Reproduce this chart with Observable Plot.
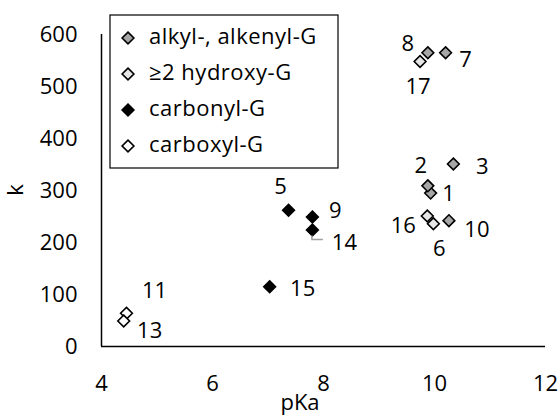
<!DOCTYPE html>
<html><head><meta charset="utf-8">
<script src="https://cdn.jsdelivr.net/npm/d3@7"></script>
<script src="https://cdn.jsdelivr.net/npm/@observablehq/plot@0.6"></script>
<style>body{margin:0;background:#fff}</style>
</head><body><div id="chart"></div>
<script>
// ---- data ----
const groups = ["alkyl-, alkenyl-G", "≥2 hydroxy-G", "carbonyl-G", "carboxyl-G"];
const pointIds = ["1","2","3","5","6","7","8","9","10","11","13","14","15","16","17"];
const pKaValues = [9.93, 9.88, 10.34, 7.37, 9.98, 10.2, 9.88, 7.8, 10.26, 4.45, 4.4, 7.8, 7.03, 9.87, 9.74];
const kValues   = [295, 309, 351, 262, 236, 565, 565, 249, 242, 64, 49, 224, 115, 251, 548];
const groupIndex = [0, 0, 0, 2, 1, 0, 0, 2, 0, 3, 3, 2, 2, 1, 1];
const xTicks = [4, 6, 8, 10, 12];
const yTicks = [0, 100, 200, 300, 400, 500, 600];

// ---- styles / layout ----
const fills = ["#a6a6a6", "#e6e6e6", "#000000", "#ffffff"];
const labelOffsets = {
  "1": [18, 1], "2": [-7, -20], "3": [29, 3], "5": [-8, -23], "6": [6, 25],
  "7": [20, 7], "8": [-20, -9], "9": [23, -6], "10": [28, 9], "11": [28, -22],
  "13": [26, 10], "14": [32, 13], "15": [33, 2], "16": [-24, 10], "17": [-2, 25]
};
const FONT = "'Open Sans', sans-serif";
const FS = 22;

const data = pointIds.map((id, i) => ({id, pKa: pKaValues[i], k: kValues[i], g: groupIndex[i]}));
const drawOrder = [0, 1, 2, 3].flatMap(g => data.filter(d => d.g === g));

const diamond = {draw(ctx, size) {
  const r = Math.sqrt(size) * 0.62625;
  ctx.moveTo(0, -r); ctx.lineTo(r, 0); ctx.lineTo(0, r); ctx.lineTo(-r, 0); ctx.closePath();
}};

const chart = Plot.plot({
  width: 560, height: 415,
  marginLeft: 101, marginRight: 15, marginTop: 34, marginBottom: 69,
  style: {fontFamily: FONT, fontSize: FS + "px", color: "#000", background: "#fff"},
  x: {domain: [4, 12], ticks: xTicks, label: null},
  y: {domain: [0, 600], ticks: yTicks, label: null},
  marks: [
    Plot.axisX({ticks: xTicks, tickSize: 0, tickPadding: 29, fontSize: FS, label: null}),
    Plot.axisY({ticks: yTicks, tickSize: 0, tickPadding: 24, fontSize: FS, label: null}),
    Plot.ruleY([0], {stroke: "#000", strokeWidth: 1.5}),
    Plot.ruleX([4], {stroke: "#000", strokeWidth: 1.5}),
    Plot.dot(drawOrder, {x: "pKa", y: "k", symbol: diamond, r: 5.3,
      fill: d => fills[d.g], stroke: "#000", strokeWidth: 1.6}),
    ...data.map(d => Plot.text([d], {x: "pKa", y: "k", text: "id",
      dx: labelOffsets[d.id][0], dy: labelOffsets[d.id][1], fontSize: FS, fill: "#000"}))
  ]
});

document.getElementById("chart").append(chart);

const svg = d3.select(chart);
const xs = chart.scale("x"), ys = chart.scale("y");

// leader line for label 14
const p14 = data.find(d => d.id === "14");
const lx = xs.apply(p14.pKa), ly = ys.apply(p14.k);
svg.append("path")
  .attr("d", `M${lx},${ly + 6}V${ly + 10}H${lx + 11}`)
  .attr("fill", "none").attr("stroke", "#a0a0a0").attr("stroke-width", 1.5);

// axis titles
svg.append("text").attr("x", 300).attr("y", 404).attr("text-anchor", "middle")
  .attr("dominant-baseline", "middle").style("font", `${FS}px ${FONT}`).text("pKa");
svg.append("text").attr("transform", "translate(17,190) rotate(-90)").attr("text-anchor", "middle")
  .attr("dominant-baseline", "middle").style("font", `${FS}px ${FONT}`).text("k");

// legend
const lg = svg.append("g");
lg.append("rect").attr("x", 110).attr("y", 15).attr("width", 228).attr("height", 153)
  .attr("fill", "#fff").attr("stroke", "#000").attr("stroke-width", 1.2);
const sym = d3.symbol().type(diamond).size(Math.PI * 5.3 * 5.3);
groups.forEach((name, i) => {
  const y = 38 + i * 36;
  lg.append("path").attr("d", sym()).attr("transform", `translate(128,${y})`)
    .attr("fill", fills[i]).attr("stroke", "#000").attr("stroke-width", 1.6);
  lg.append("text").attr("x", 149).attr("y", y).attr("text-anchor", "start")
    .attr("dominant-baseline", "middle").style("letter-spacing", "0.5px")
    .style("font", `${FS}px ${FONT}`).text(name);
});
</script>
</body></html>
